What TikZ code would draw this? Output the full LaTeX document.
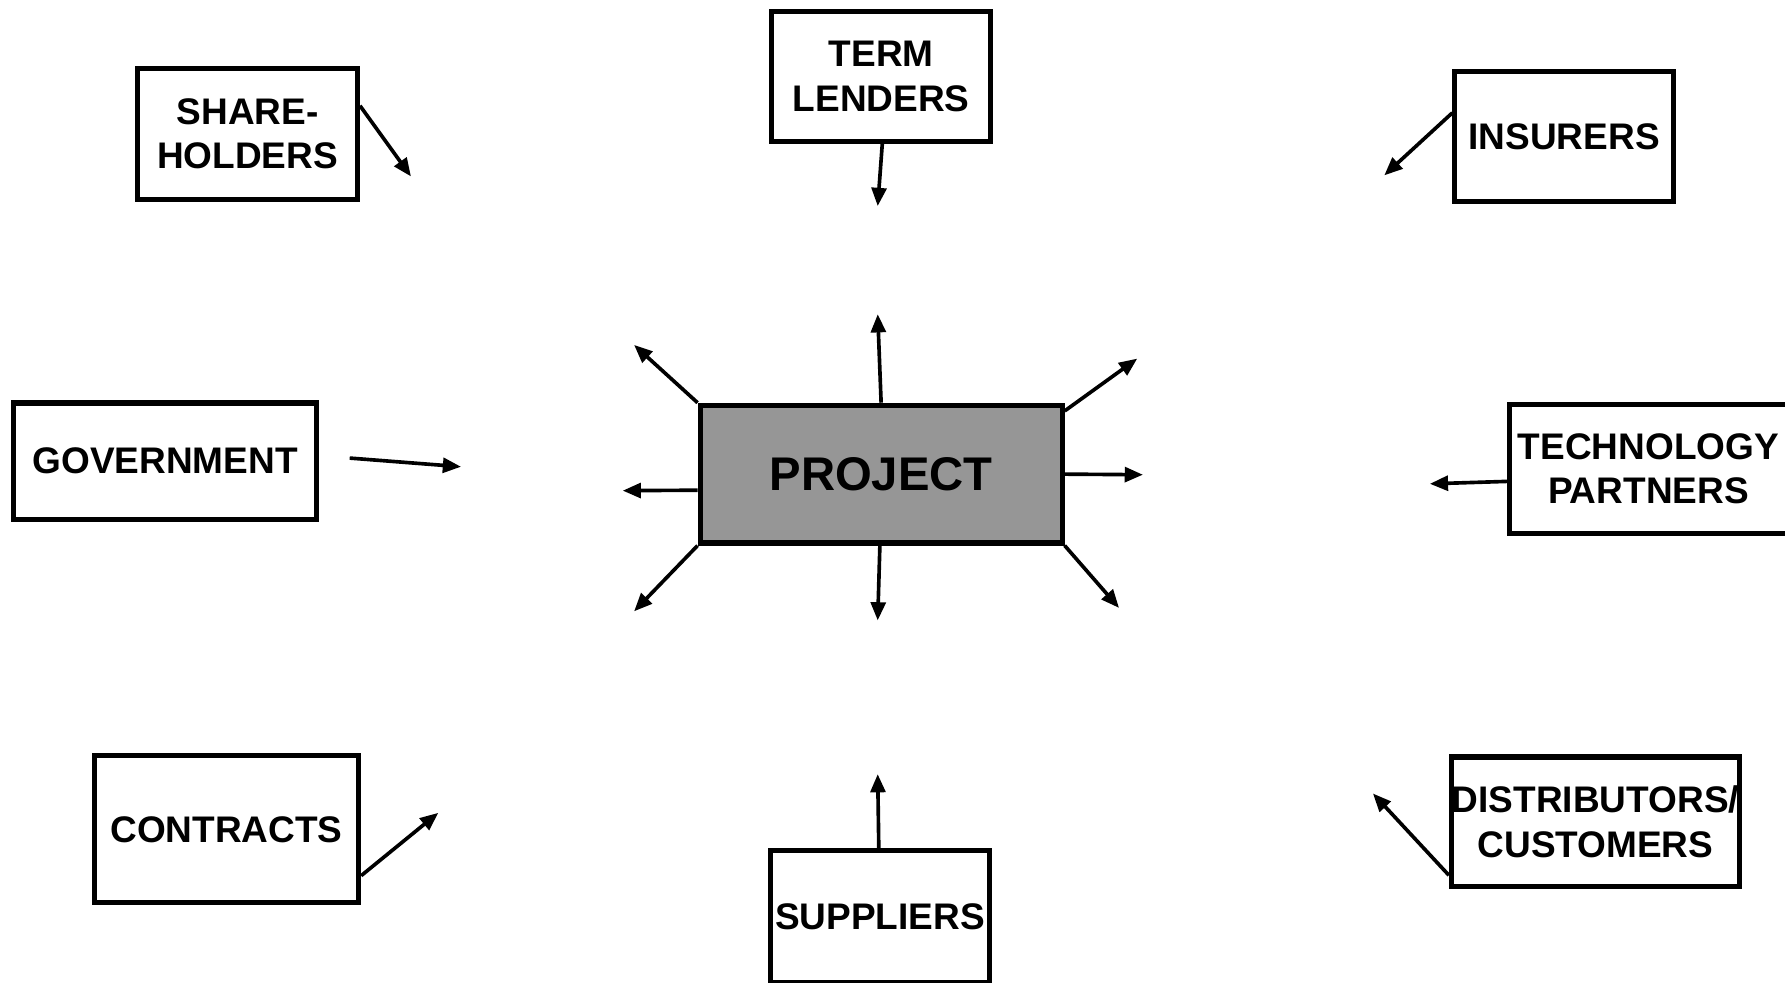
\documentclass[tikz,border=0pt]{standalone}
\usepackage{fontspec}
\setmainfont{Liberation Sans}
\usetikzlibrary{arrows.meta}
\definecolor{hubgray}{RGB}{150,150,150}
\begin{document}
\begin{tikzpicture}[x=1pt,y=-1pt,
  party/.style={draw, line width=4.5pt, inner sep=0pt, align=center,
    font=\fontsize{32.5}{39}\selectfont\bfseries},
  hub/.style={party, fill=hubgray, font=\fontsize{41.5}{48}\selectfont\bfseries},
  link/.style={line width=3.2pt, -{Triangle[length=16pt,width=13pt]}}
]
\fill[white] (0,0) rectangle (1568,863);
\clip (0,0) rectangle (1568,863);

% the project in the middle
\node[hub, minimum width=318pt, minimum height=121pt] (proj) at (774,416.5) {PROJECT};

% the parties around it
\node[party, minimum width=193pt, minimum height=115pt] (sh)   at (217.5,117.5) {SHARE-\\HOLDERS};
\node[party, minimum width=192pt, minimum height=114pt] (tl)   at (774,67)      {TERM\\LENDERS};
\node[party, minimum width=192pt, minimum height=114pt] (ins)  at (1374,120)    {INSURERS};
\node[party, minimum width=266pt, minimum height=102pt] (gov)  at (145,405)     {GOVERNMENT};
\node[party, minimum width=244pt, minimum height=114pt] (tech) at (1448,412)    {TECHNOLOGY\\PARTNERS};
\node[party, minimum width=232pt, minimum height=129pt] (con)  at (199,728.5)   {CONTRACTS};
\node[party, minimum width=192pt, minimum height=116pt] (sup)  at (773,805)     {SUPPLIERS};
\node[party, minimum width=253pt, minimum height=114pt] (dist) at (1401.5,722)  {DISTRIBUTORS/\\CUSTOMERS};

% free ends of the inward arrows
\coordinate (shT)   at (361,155);
\coordinate (tlT)   at (771,181);
\coordinate (insT)  at (1216,154);
\coordinate (govT)  at (405,410);
\coordinate (techT) at (1256,425);
\coordinate (conT)  at (385,714);
\coordinate (supT)  at (771,680);
\coordinate (distT) at (1206,697);

\draw[link] (sh.14)    -- (shT);
\draw[link] (tl.-89)   -- (tlT);
\draw[link] (ins.168)  -- (insT);
\draw[link, shorten <=27pt] (gov.2) -- (govT);
\draw[link] (tech.185) -- (techT);
\draw[link] (con.-19)  -- (conT);
\draw[link] (sup.91)   -- (supT);
\draw[link] (dist.200) -- (distT);

% free ends of the outward arrows
\coordinate (pN)  at (771,276);
\coordinate (pNW) at (557,303);
\coordinate (pW)  at (547,431);
\coordinate (pSW) at (557,537);
\coordinate (pS)  at (771,545);
\coordinate (pSE) at (983,534);
\coordinate (pE)  at (1004,417);
\coordinate (pNE) at (999,315);

\draw[link] (proj.north)      -- (pN);
\draw[link] (proj.north west) -- (pNW);
\draw[link] (proj.185)        -- (pW);
\draw[link] (proj.south west) -- (pSW);
\draw[link] (proj.-91)        -- (pS);
\draw[link] (proj.south east) -- (pSE);
\draw[link] (proj.east)       -- (pE);
\draw[link] (proj.19)         -- (pNE);
\end{tikzpicture}
\end{document}
